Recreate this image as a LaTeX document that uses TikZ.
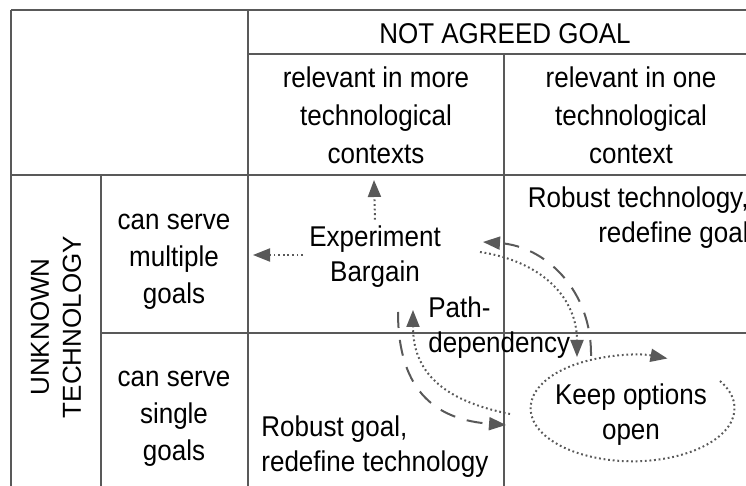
\documentclass[tikz,border=0pt]{standalone}
\usepackage{fontspec}
\setmainfont{Liberation Sans}
\usetikzlibrary{arrows.meta}

\begin{document}
\begin{tikzpicture}[x=0.5pt, y=-0.5pt,
    cell/.style={font=\fontsize{13}{16}\selectfont, inner sep=0pt, align=center, yscale=1.1},
    grid/.style={black!65, line width=0.9pt},
    dotarrow/.style={black!65, line width=1pt, dash pattern=on 0.9pt off 1.4pt, -{Triangle[length=8.5pt,width=6.5pt]}},
    dasharrow/.style={black!65, line width=1pt, dash pattern=on 8pt off 6pt, -{Triangle[length=8.5pt,width=6.5pt]}}]
    \useasboundingbox (0,0) rectangle (746,486);

    % Table lines
    \draw[grid] (11,10) -- (760,10);
    \draw[grid] (248,54) -- (760,54);
    \draw[grid] (11,175) -- (760,175);
    \draw[grid] (101,333) -- (760,333);
    \draw[grid] (11,10) -- (11,490);
    \draw[grid] (248,10) -- (248,490);
    \draw[grid] (504,54) -- (504,490);
    \draw[grid] (101,175) -- (101,490);

    % Headers
    \node[cell] (goal) at (505,34) {NOT AGREED GOAL};
    \node[cell, font=\fontsize{13}{17.3}\selectfont] (more) at (376,115) {relevant in more\\technological\\contexts};
    \node[cell, font=\fontsize{13}{17.3}\selectfont] (one) at (631,115) {relevant in one\\technological\\context};
    \node[cell, yscale=1/1.1, rotate=90] (unknown) at (56,327) {UNKNOWN\\TECHNOLOGY};
    \node[cell, font=\fontsize{13}{16.8}\selectfont] (multi) at (174,262) {can serve\\multiple\\goals};
    \node[cell, font=\fontsize{13}{16.8}\selectfont] (single) at (174,419) {can serve\\single\\goals};

    % Cell texts
    \node[cell] (exp) at (375,257) {Experiment\\Bargain};
    \node[cell, anchor=east, align=right] (robtech) at (749,218) {Robust technology,\\redefine goal};
    \node[cell, anchor=west, align=left] (path) at (428,328) {Path-\\dependency};
    \node[cell] (keep) at (631,415) {Keep options\\open};
    \node[cell, anchor=west, align=left] (robgoal) at (261,447) {Robust goal,\\redefine technology};

    % Arrow ends
    \coordinate (u) at (374,180);
    \coordinate (w) at (253,255);
    \coordinate (w0) at (303,255);
    \coordinate (a) at (591,356);
    \coordinate (b) at (483,242);
    \coordinate (c) at (480,252);
    \coordinate (d) at (577,357);
    \coordinate (e) at (398,312);
    \coordinate (f) at (506,425);
    \coordinate (g) at (510,414);
    \coordinate (h) at (413,310);
    \coordinate (k) at (720,381);

    % Arrows
    \draw[dotarrow] ([yshift=3pt]exp.north) -- (u);
    \draw[dotarrow] (w0) -- (w);
    \draw[dasharrow] (a) .. controls (592,290) and (545,246) .. (b);
    \draw[dotarrow] (c) .. controls (545,262) and (577,300) .. (d);
    \draw[dasharrow] (e) .. controls (398,395) and (440,420) .. (f);
    \draw[dotarrow] (g) .. controls (440,400) and (413,370) .. (h);
    \draw[dotarrow] (k) arc[start angle=31, end angle=-290, x radius=51pt, y radius=26.5pt];
\end{tikzpicture}
\end{document}
